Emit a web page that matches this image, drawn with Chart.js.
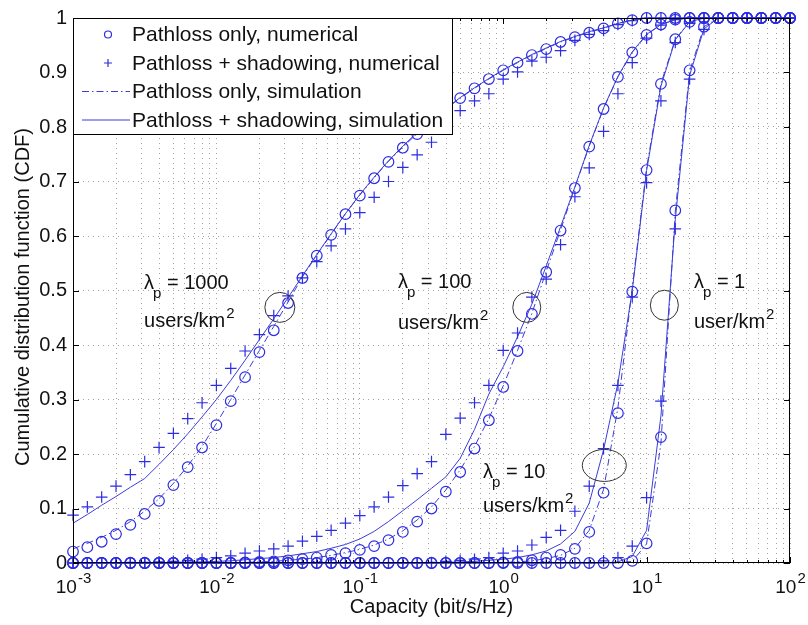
<!DOCTYPE html>
<html>
<head>
<meta charset="utf-8">
<script src="https://cdn.jsdelivr.net/npm/chart.js@4.4.0/dist/chart.umd.min.js"></script>
<style>
  html, body { margin: 0; padding: 0; background: #fff; }
</style>
</head>
<body>
<canvas id="myChart" width="808" height="625"></canvas>
<script>
// capacity grid (bit/s/Hz), 0.1 decade steps
const capacity = [
  0.001, 0.001259, 0.001585, 0.001995, 0.002512, 0.003162, 0.003981, 0.005012, 0.00631, 0.007943,
  0.01, 0.01259, 0.01585, 0.01995, 0.02512, 0.03162, 0.03981, 0.05012, 0.0631, 0.07943,
  0.1, 0.1259, 0.1585, 0.1995, 0.2512, 0.3162, 0.3981, 0.5012, 0.631, 0.7943,
  1, 1.259, 1.585, 1.995, 2.512, 3.162, 3.981, 5.012, 6.31, 7.943,
  10, 12.59, 15.85, 19.95, 25.12, 31.62, 39.81, 50.12, 63.1, 79.43, 100,
];

// numerical, pathloss only (circles)
const plNum1000 = [
  0.021, 0.029, 0.039, 0.053, 0.070, 0.090, 0.114, 0.143, 0.176, 0.212,
  0.253, 0.297, 0.341, 0.387, 0.427, 0.477, 0.523, 0.564, 0.602, 0.640,
  0.674, 0.706, 0.736, 0.762, 0.787, 0.810, 0.832, 0.853, 0.871, 0.888,
  0.904, 0.918, 0.932, 0.943, 0.956, 0.965, 0.973, 0.981, 0.990, 0.996,
  1, 1, 1, 1, 1, 1, 1, 1, 1, 1, 1,
];
const plNum100 = [
  0, 0, 0, 0, 0, 0, 0, 0, 0, 0,
  0, 0, 0.001, 0.002, 0.003, 0.005, 0.007, 0.010, 0.015, 0.018,
  0.024, 0.031, 0.042, 0.057, 0.076, 0.100, 0.131, 0.167, 0.210, 0.262,
  0.323, 0.389, 0.457, 0.534, 0.610, 0.688, 0.764, 0.833, 0.892, 0.937,
  0.969, 0.988, 0.997, 1, 1, 1, 1, 1, 1, 1, 1,
];
const plNum10 = [
  0, 0, 0, 0, 0, 0, 0, 0, 0, 0,
  0, 0, 0, 0, 0, 0, 0, 0, 0, 0,
  0, 0, 0, 0, 0, 0, 0, 0, 0, 0,
  0.001, 0.002, 0.005, 0.010, 0.015, 0.026, 0.057, 0.129, 0.275, 0.498,
  0.721, 0.879, 0.961, 0.993, 1, 1, 1, 1, 1, 1, 1,
];
const plNum1 = [
  0, 0, 0, 0, 0, 0, 0, 0, 0, 0,
  0, 0, 0, 0, 0, 0, 0, 0, 0, 0,
  0, 0, 0, 0, 0, 0, 0, 0, 0, 0,
  0, 0, 0, 0, 0, 0, 0, 0, 0, 0.004,
  0.036, 0.231, 0.647, 0.904, 0.984, 1, 1, 1, 1, 1, 1,
];

// numerical, pathloss + shadowing (plus signs)
const shNum1000 = [
  0.088, 0.103, 0.121, 0.141, 0.162, 0.186, 0.212, 0.238, 0.265, 0.294,
  0.326, 0.357, 0.389, 0.419, 0.454, 0.490, 0.523, 0.553, 0.582, 0.613,
  0.643, 0.671, 0.700, 0.726, 0.749, 0.772, 0.800, 0.830, 0.848, 0.861,
  0.888, 0.901, 0.921, 0.928, 0.940, 0.959, 0.970, 0.977, 0.988, 0.995,
  1, 1, 1, 1, 1, 1, 1, 1, 1, 1, 1,
];
const shNum100 = [
  0, 0, 0, 0, 0.001, 0.001, 0.002, 0.003, 0.005, 0.007,
  0.010, 0.013, 0.018, 0.022, 0.026, 0.031, 0.040, 0.049, 0.060, 0.073,
  0.087, 0.103, 0.121, 0.142, 0.164, 0.186, 0.236, 0.266, 0.294, 0.326,
  0.390, 0.422, 0.488, 0.521, 0.584, 0.672, 0.725, 0.792, 0.861, 0.918,
  0.963, 0.987, 0.997, 1, 1, 1, 1, 1, 1, 1, 1,
];
const shNum10 = [
  0, 0, 0, 0, 0, 0, 0, 0, 0, 0,
  0, 0, 0, 0, 0, 0, 0, 0, 0, 0,
  0, 0, 0, 0, 0, 0.001, 0.003, 0.005, 0.007, 0.010,
  0.018, 0.022, 0.033, 0.047, 0.060, 0.095, 0.141, 0.210, 0.326, 0.488,
  0.698, 0.848, 0.955, 0.990, 1, 1, 1, 1, 1, 1, 1,
];
const shNum1 = [
  0, 0, 0, 0, 0, 0, 0, 0, 0, 0,
  0, 0, 0, 0, 0, 0, 0, 0, 0, 0,
  0, 0, 0, 0, 0, 0, 0, 0, 0, 0,
  0, 0, 0, 0, 0, 0, 0, 0.004, 0.010, 0.031,
  0.120, 0.297, 0.613, 0.888, 0.979, 1, 1, 1, 1, 1, 1,
];

// simulation, pathloss only (dash-dot lines)
const plSim1000 = [
  0.026, 0.036, 0.047, 0.060, 0.076, 0.095, 0.118, 0.146, 0.178, 0.214,
  0.256, 0.300, 0.345, 0.390, 0.434, 0.479, 0.525, 0.565, 0.603, 0.641,
  0.675, 0.707, 0.737, 0.763, 0.788, 0.811, 0.833, 0.853, 0.871, 0.888,
  0.904, 0.918, 0.932, 0.944, 0.956, 0.965, 0.974, 0.981, 0.990, 0.996,
  1, 1, 1, 1, 1, 1, 1, 1, 1, 1, 1,
];
const plSim100 = [
  0, 0, 0, 0, 0, 0, 0, 0, 0, 0,
  0, 0, 0.001, 0.002, 0.003, 0.005, 0.007, 0.010, 0.014, 0.019,
  0.025, 0.033, 0.044, 0.059, 0.079, 0.103, 0.134, 0.171, 0.214, 0.265,
  0.325, 0.390, 0.458, 0.535, 0.611, 0.689, 0.765, 0.834, 0.892, 0.937,
  0.969, 0.988, 0.997, 1, 1, 1, 1, 1, 1, 1, 1,
];
const plSim10 = [
  0, 0, 0, 0, 0, 0, 0, 0, 0, 0,
  0, 0, 0, 0, 0, 0, 0, 0, 0, 0,
  0, 0, 0, 0, 0, 0, 0, 0, 0, 0,
  0.001, 0.002, 0.004, 0.008, 0.014, 0.027, 0.060, 0.135, 0.285, 0.505,
  0.725, 0.880, 0.961, 0.993, 1, 1, 1, 1, 1, 1, 1,
];
const plSim1 = [
  0, 0, 0, 0, 0, 0, 0, 0, 0, 0,
  0, 0, 0, 0, 0, 0, 0, 0, 0, 0,
  0, 0, 0, 0, 0, 0, 0, 0, 0, 0,
  0, 0, 0, 0, 0, 0, 0, 0, 0, 0.003,
  0.035, 0.220, 0.645, 0.902, 0.984, 1, 1, 1, 1, 1, 1,
];

// simulation, pathloss + shadowing (solid lines)
const shSim1000 = [
  0.073, 0.089, 0.106, 0.122, 0.139, 0.155, 0.181, 0.208, 0.237, 0.268,
  0.300, 0.335, 0.372, 0.410, 0.448, 0.487, 0.527, 0.566, 0.604, 0.641,
  0.676, 0.708, 0.738, 0.765, 0.790, 0.813, 0.834, 0.854, 0.872, 0.889,
  0.905, 0.919, 0.933, 0.945, 0.957, 0.966, 0.975, 0.982, 0.990, 0.996,
  1, 1, 1, 1, 1, 1, 1, 1, 1, 1, 1,
];
const shSim100 = [
  0, 0, 0, 0, 0, 0, 0.001, 0.001, 0.002, 0.002,
  0.003, 0.004, 0.006, 0.008, 0.010, 0.013, 0.017, 0.021, 0.027, 0.034,
  0.044, 0.058, 0.076, 0.096, 0.116, 0.137, 0.158, 0.192, 0.245, 0.310,
  0.360, 0.415, 0.475, 0.545, 0.617, 0.690, 0.766, 0.835, 0.893, 0.938,
  0.970, 0.988, 0.997, 1, 1, 1, 1, 1, 1, 1, 1,
];
const shSim10 = [
  0, 0, 0, 0, 0, 0, 0, 0, 0, 0,
  0, 0, 0, 0, 0, 0, 0, 0, 0, 0,
  0, 0, 0, 0, 0, 0, 0.001, 0.002, 0.003, 0.005,
  0.007, 0.010, 0.015, 0.022, 0.035, 0.058, 0.110, 0.208, 0.330, 0.500,
  0.720, 0.875, 0.960, 0.993, 1, 1, 1, 1, 1, 1, 1,
];
const shSim1 = [
  0, 0, 0, 0, 0, 0, 0, 0, 0, 0,
  0, 0, 0, 0, 0, 0, 0, 0, 0, 0,
  0, 0, 0, 0, 0, 0, 0, 0, 0, 0,
  0, 0, 0, 0, 0, 0, 0, 0, 0.002, 0.012,
  0.060, 0.270, 0.630, 0.895, 0.980, 1, 1, 1, 1, 1, 1,
];

const decades = [0.001, 0.01, 0.1, 1, 10, 100];
const decadeExp = ["-3", "-2", "-1", "0", "1", "2"];
const yTicks = [0, 0.1, 0.2, 0.3, 0.4, 0.5, 0.6, 0.7, 0.8, 0.9, 1];
const legendLabels = [
  "Pathloss only, numerical",
  "Pathloss + shadowing, numerical",
  "Pathloss only, simulation",
  "Pathloss + shadowing, simulation",
];
const xTitle = "Capacity (bit/s/Hz)";
const yTitle = "Cumulative distribution function (CDF)";

// density labels, placed in data coordinates
const notes = [
  { lam: "1000", unit: "users/km", x: 0.00313, y1: 0.502, y2: 0.433, ex: 0.0277, ey: 0.469, rx: 15, ry: 15 },
  { lam: "100", unit: "users/km", x: 0.1845, y1: 0.504, y2: 0.430, ex: 1.46, ey: 0.469, rx: 14, ry: 15 },
  { lam: "10", unit: "users/km", x: 0.723, y1: 0.156, y2: 0.0934, ex: 5.07, ey: 0.179, rx: 22, ry: 16 },
  { lam: "1", unit: "user/km", x: 21.4, y1: 0.504, y2: 0.432, ex: 13.3, ey: 0.473, rx: 14, ry: 15 },
];

const BLUE = "rgb(45,45,225)";
const LINE_BLUE = "rgb(60,60,215)";
const FONT = "'Liberation Sans', Arial, Helvetica, sans-serif";
const DASH = [7, 3, 1.5, 3];

function pts(arr) {
  return capacity.map((c, i) => ({ x: c, y: arr[i] }));
}

function lineSet(arr, dashed) {
  return {
    data: pts(arr),
    borderColor: LINE_BLUE,
    borderWidth: 1,
    borderDash: dashed ? DASH : [],
    pointRadius: 0,
    fill: false,
    tension: 0,
    clip: false,
  };
}

function markerSet(arr, style) {
  return {
    data: pts(arr),
    showLine: false,
    pointStyle: style,
    pointRadius: style === "cross" ? 5.8 : 5.3,
    pointBorderColor: BLUE,
    pointBackgroundColor: "rgba(0,0,0,0)",
    pointBorderWidth: 1.2,
    clip: false,
  };
}

const datasets = [];
[plNum1000, plNum100, plNum10, plNum1].forEach((a) => datasets.push(markerSet(a, "circle")));
[shNum1000, shNum100, shNum10, shNum1].forEach((a) => datasets.push(markerSet(a, "cross")));
[plSim1000, plSim100, plSim10, plSim1].forEach((a) => datasets.push(lineSet(a, true)));
[shSim1000, shSim100, shSim10, shSim1].forEach((a) => datasets.push(lineSet(a, false)));

const decorPlugin = {
  id: "decor",
  afterDatasetsDraw(chart) {
    const ctx = chart.ctx;
    const xs = chart.scales.x;
    const ys = chart.scales.y;
    const area = chart.chartArea;
    ctx.save();

    // density notes and ellipses
    ctx.fillStyle = "#111";
    notes.forEach((n) => {
      const px = xs.getPixelForValue(n.x);
      const py1 = ys.getPixelForValue(n.y1);
      const py2 = ys.getPixelForValue(n.y2);
      ctx.textBaseline = "alphabetic";
      ctx.textAlign = "left";
      ctx.font = "20px " + FONT;
      ctx.fillText("\u03bb", px, py1);
      let cx = px + ctx.measureText("\u03bb").width - 1;
      ctx.font = "15px " + FONT;
      ctx.fillText("p", cx, py1 + 9);
      cx += ctx.measureText("p").width;
      ctx.font = "20px " + FONT;
      ctx.fillText(" = " + n.lam, cx, py1);
      ctx.fillText(n.unit, px, py2);
      const uw = ctx.measureText(n.unit).width;
      ctx.font = "15px " + FONT;
      ctx.fillText("2", px + uw + 1, py2 - 9);

      ctx.beginPath();
      ctx.strokeStyle = "#333";
      ctx.lineWidth = 1;
      ctx.ellipse(xs.getPixelForValue(n.ex), ys.getPixelForValue(n.ey), n.rx, n.ry, 0, 0, Math.PI * 2);
      ctx.stroke();
    });

    // axes box and inner ticks
    ctx.strokeStyle = "#000";
    ctx.lineWidth = 1;
    ctx.strokeRect(area.left + 0.5, area.top + 0.5, area.right - area.left - 1, area.bottom - area.top - 1);
    ctx.beginPath();
    decades.forEach((d) => {
      for (let m = 1; m <= 9; m++) {
        const v = d * m;
        if (v > 100 + 1e-9) break;
        const px = Math.round(xs.getPixelForValue(v)) + 0.5;
        const len = m === 1 ? 6 : 3;
        ctx.moveTo(px, area.bottom);
        ctx.lineTo(px, area.bottom - len);
        ctx.moveTo(px, area.top);
        ctx.lineTo(px, area.top + len);
      }
    });
    yTicks.forEach((v) => {
      const py = Math.round(ys.getPixelForValue(v)) + 0.5;
      ctx.moveTo(area.left, py);
      ctx.lineTo(area.left + 6, py);
      ctx.moveTo(area.right, py);
      ctx.lineTo(area.right - 6, py);
    });
    ctx.stroke();

    // legend
    const lx = area.left, ly = area.top, lw = 379, lh = 116;
    ctx.fillStyle = "#fff";
    ctx.fillRect(lx, ly, lw, lh);
    ctx.strokeStyle = "#000";
    ctx.strokeRect(lx + 0.5, ly + 0.5, lw, lh);
    legendLabels.forEach((label, i) => {
      const cy = ly + 16.5 + i * 28.5;
      ctx.strokeStyle = BLUE;
      ctx.lineWidth = 1.2;
      ctx.setLineDash([]);
      ctx.beginPath();
      if (i === 0) {
        ctx.arc(lx + 35, cy, 3.5, 0, Math.PI * 2);
      } else if (i === 1) {
        ctx.moveTo(lx + 31, cy); ctx.lineTo(lx + 39, cy);
        ctx.moveTo(lx + 35, cy - 4); ctx.lineTo(lx + 35, cy + 4);
      } else {
        ctx.strokeStyle = LINE_BLUE;
        ctx.lineWidth = 1;
        if (i === 2) ctx.setLineDash(DASH);
        ctx.moveTo(lx + 9, cy); ctx.lineTo(lx + 57, cy);
      }
      ctx.stroke();
      ctx.setLineDash([]);
      ctx.fillStyle = "#111";
      ctx.font = "21px " + FONT;
      ctx.textBaseline = "middle";
      ctx.textAlign = "left";
      ctx.fillText(label, lx + 59, cy + 1);
    });

    // x tick labels with exponents
    ctx.fillStyle = "#111";
    ctx.textBaseline = "alphabetic";
    decades.forEach((d, i) => {
      const px = xs.getPixelForValue(d);
      ctx.font = "19px " + FONT;
      const w1 = ctx.measureText("10").width;
      ctx.font = "15px " + FONT;
      const w2 = ctx.measureText(decadeExp[i]).width;
      const x0 = px - (w1 + w2) / 2;
      ctx.font = "19px " + FONT;
      ctx.fillText("10", x0, area.bottom + 30);
      ctx.font = "15px " + FONT;
      ctx.fillText(decadeExp[i], x0 + w1 + 1, area.bottom + 20);
    });

    // axis titles
    ctx.font = "20px " + FONT;
    ctx.textAlign = "center";
    ctx.fillText(xTitle, (area.left + area.right) / 2, area.bottom + 50);
    ctx.save();
    ctx.translate(28.5, 297);
    ctx.rotate(-Math.PI / 2);
    ctx.fillText(yTitle, 0, 0);
    ctx.restore();

    ctx.restore();
  },
};

const ctx = document.getElementById("myChart").getContext("2d");
const myChart = new Chart(ctx, {
  type: "line",
  data: { datasets: datasets },
  plugins: [decorPlugin],
  options: {
    responsive: false,
    animation: false,
    devicePixelRatio: 1,
    layout: { padding: { top: 17, right: 18, left: 0, bottom: 0 } },
    plugins: { legend: { display: false }, tooltip: { enabled: false } },
    scales: {
      x: {
        type: "logarithmic",
        min: 0.001,
        max: 100,
        afterBuildTicks: (scale) => {
          const t = [];
          decades.forEach((d) => {
            for (let m = 1; m <= 9; m++) {
              if (d * m <= 100 + 1e-9) t.push({ value: d * m });
            }
          });
          scale.ticks = t;
        },
        afterFit: (scale) => { scale.height = 62; },
        ticks: { display: false },
        grid: { color: "rgba(100,100,100,0.6)", lineWidth: 1, drawTicks: false },
        border: { display: false, dash: [1, 4] },
      },
      y: {
        type: "linear",
        min: 0,
        max: 1,
        afterBuildTicks: (scale) => {
          scale.ticks = yTicks.map((v) => ({ value: v }));
        },
        afterFit: (scale) => { scale.width = 73; },
        ticks: {
          padding: 6,
          color: "#111",
          font: { family: FONT, size: 20 },
          callback: (v) => String(+v.toFixed(1)),
        },
        grid: { color: "rgba(100,100,100,0.6)", lineWidth: 1, drawTicks: false },
        border: { display: false, dash: [1, 4] },
      },
    },
  },
});
</script>
</body>
</html>
